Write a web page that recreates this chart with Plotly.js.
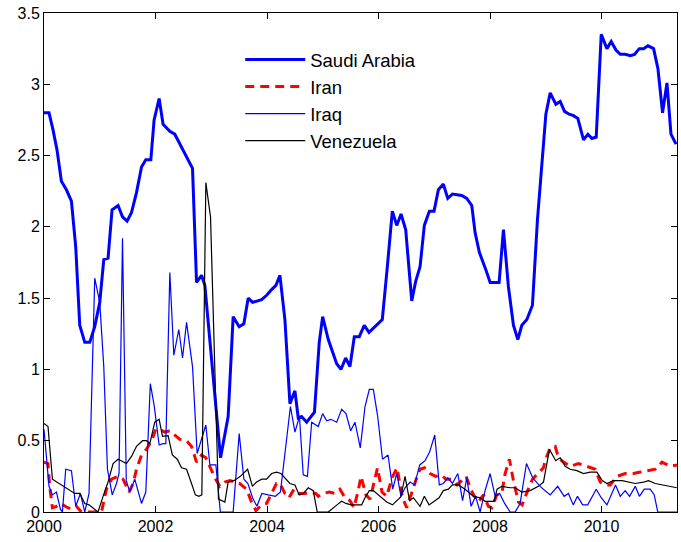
<!DOCTYPE html>
<html>
<head>
<meta charset="utf-8">
<script src="https://cdn.plot.ly/plotly-3.0.1.min.js"></script>
<style>html,body{margin:0;padding:0;background:#fff;}#chart{width:681px;height:542px;}</style>
</head>
<body>
<div id="chart"></div>
<script>
// Series names
var seriesNames = ["Saudi Arabia", "Iran", "Iraq", "Venezuela"];

// Saudi Arabia (decimal years / values)
var saudiX = [2000.000,2000.090,2000.162,2000.233,2000.312,2000.402,2000.492,2000.569,2000.641,2000.731,2000.820,2000.910,2001.000,2001.072,2001.149,2001.221,2001.329,2001.408,2001.490,2001.569,2001.659,2001.749,2001.826,2001.916,2001.975,2002.065,2002.136,2002.257,2002.346,2002.467,2002.585,2002.664,2002.736,2002.826,2002.885,2003.167,2003.303,2003.393,2003.501,2003.585,2003.662,2003.741,2003.903,2003.993,2004.083,2004.160,2004.232,2004.321,2004.411,2004.501,2004.560,2004.621,2004.711,2004.783,2004.851,2004.937,2004.998,2005.099,2005.250,2005.327,2005.411,2005.488,2005.566,2005.655,2005.745,2005.829,2006.068,2006.158,2006.248,2006.327,2006.404,2006.488,2006.596,2006.668,2006.745,2006.822,2006.912,2006.996,2007.074,2007.163,2007.242,2007.325,2007.494,2007.583,2007.673,2007.732,2007.810,2007.925,2008.002,2008.163,2008.241,2008.330,2008.420,2008.499,2008.571,2008.661,2008.761,2008.851,2008.930,2009.002,2009.079,2009.181,2009.259,2009.336,2009.420,2009.497,2009.576,2009.677,2009.756,2009.828,2009.905,2009.995,2010.097,2010.174,2010.259,2010.336,2010.425,2010.515,2010.592,2010.677,2010.754,2010.833,2010.934,2011.012,2011.095,2011.174,2011.246,2011.336];
var saudiY = [2.80,2.80,2.68,2.54,2.32,2.26,2.18,1.86,1.31,1.19,1.19,1.30,1.47,1.77,1.78,2.12,2.15,2.07,2.04,2.10,2.24,2.42,2.47,2.47,2.75,2.90,2.72,2.67,2.65,2.56,2.47,2.41,1.61,1.66,1.59,0.38,0.67,1.37,1.30,1.32,1.50,1.47,1.49,1.52,1.56,1.59,1.66,1.35,0.76,0.85,0.66,0.67,0.63,0.67,0.70,1.19,1.37,1.21,1.04,1.00,1.08,1.02,1.23,1.23,1.31,1.26,1.35,1.72,2.11,2.01,2.09,1.98,1.48,1.62,1.72,2.01,2.11,2.11,2.26,2.30,2.20,2.23,2.22,2.20,2.15,1.96,1.82,1.70,1.61,1.61,1.98,1.58,1.31,1.21,1.31,1.35,1.45,2.05,2.45,2.79,2.94,2.86,2.88,2.81,2.79,2.78,2.76,2.61,2.65,2.62,2.63,3.35,3.25,3.30,3.24,3.21,3.21,3.20,3.21,3.25,3.25,3.27,3.25,3.11,2.80,3.01,2.65,2.58];

// Iran
var iranX = [2000.000,2000.072,2000.102,2000.151,2000.223,2000.300,2000.402,2000.492,2000.582,2000.671,2001.031,2001.120,2001.210,2001.329,2001.418,2001.526,2001.598,2001.659,2001.749,2001.838,2001.928,2002.005,2002.077,2002.167,2002.257,2002.346,2002.436,2002.557,2002.646,2002.736,2002.826,2002.903,2002.975,2003.065,2003.154,2003.244,2003.334,2003.424,2003.513,2003.634,2003.723,2003.801,2003.903,2003.993,2004.083,2004.169,2004.232,2004.321,2004.393,2004.483,2004.578,2004.680,2004.770,2004.878,2004.919,2005.009,2005.117,2005.219,2005.309,2005.399,2005.488,2005.560,2005.641,2005.686,2005.776,2005.848,2005.982,2006.063,2006.147,2006.242,2006.332,2006.431,2006.506,2006.596,2006.686,2006.745,2006.826,2006.925,2007.027,2007.122,2007.212,2007.302,2007.409,2007.571,2007.643,2007.706,2007.792,2007.882,2007.971,2008.032,2008.122,2008.212,2008.271,2008.348,2008.420,2008.510,2008.576,2008.675,2008.761,2008.858,2008.959,2008.989,2009.079,2009.169,2009.228,2009.318,2009.438,2009.587,2009.738,2009.887,2009.977,2010.066,2010.156,2010.276,2010.425,2010.575,2010.695,2010.844,2010.964,2011.084,2011.233,2011.354];
var iranY = [0.35,0.34,0.18,0.03,0.04,0.06,0.035,0.02,0.04,0.00,0.00,0.16,0.23,0.25,0.23,0.14,0.20,0.30,0.40,0.44,0.50,0.58,0.58,0.56,0.57,0.54,0.51,0.50,0.46,0.35,0.40,0.38,0.32,0.24,0.18,0.21,0.22,0.21,0.20,0.16,0.07,0.01,0.05,0.06,0.13,0.20,0.20,0.13,0.10,0.16,0.13,0.13,0.14,0.13,0.11,0.13,0.14,0.13,0.16,0.10,0.08,0.03,0.16,0.25,0.12,0.09,0.31,0.14,0.11,0.24,0.31,0.10,0.03,0.14,0.24,0.30,0.31,0.27,0.25,0.26,0.23,0.23,0.19,0.25,0.17,0.12,0.07,0.12,0.04,0.03,0.12,0.13,0.27,0.37,0.22,0.07,0.05,0.15,0.23,0.27,0.31,0.36,0.45,0.46,0.38,0.35,0.32,0.34,0.32,0.30,0.21,0.19,0.19,0.25,0.27,0.27,0.28,0.29,0.30,0.35,0.32,0.33];

// Iraq
var iraqX = [2000.000,2000.043,2000.090,2000.151,2000.223,2000.294,2000.330,2000.390,2000.492,2000.569,2000.653,2000.731,2000.808,2000.910,2001.000,2001.072,2001.138,2001.224,2001.300,2001.346,2001.408,2001.476,2001.539,2001.628,2001.749,2001.826,2001.907,2001.975,2002.065,2002.136,2002.185,2002.257,2002.329,2002.418,2002.485,2002.557,2002.664,2002.747,2002.826,2002.903,2002.975,2003.083,2003.163,2003.393,2003.501,2003.585,2003.657,2003.741,2003.819,2003.908,2004.022,2004.151,2004.241,2004.339,2004.420,2004.501,2004.582,2004.650,2004.725,2004.801,2004.919,2004.998,2005.070,2005.147,2005.250,2005.339,2005.417,2005.501,2005.578,2005.673,2005.758,2005.835,2005.907,2005.982,2006.072,2006.171,2006.255,2006.327,2006.404,2006.476,2006.566,2006.646,2006.740,2006.835,2006.916,2007.009,2007.090,2007.163,2007.242,2007.325,2007.422,2007.508,2007.583,2007.661,2007.742,2007.822,2007.912,2008.002,2008.092,2008.172,2008.262,2008.361,2008.451,2008.540,2008.654,2008.765,2008.899,2009.079,2009.214,2009.330,2009.407,2009.492,2009.569,2009.662,2009.752,2009.905,2009.995,2010.097,2010.251,2010.336,2010.425,2010.503,2010.605,2010.680,2010.767,2010.874,2010.946,2011.009,2011.354];
var iraqY = [0.58,0.39,0.18,0.12,0.14,0.02,0.00,0.30,0.29,0.04,0.13,0.00,0.13,1.64,1.47,1.02,0.30,0.12,0.20,0.27,1.92,0.22,0.14,0.23,0.06,0.14,0.90,0.75,0.47,0.48,0.48,1.68,1.10,1.28,1.08,1.33,1.02,0.41,0.51,0.61,0.33,0.33,0.00,0.00,0.55,0.23,0.20,0.10,0.04,0.13,0.12,0.11,0.14,0.48,0.74,0.56,0.67,0.26,0.25,0.63,0.60,0.69,0.64,0.65,0.63,0.72,0.69,0.57,0.63,0.45,0.74,0.86,0.86,0.68,0.37,0.40,0.16,0.27,0.11,0.17,0.21,0.19,0.33,0.36,0.42,0.54,0.19,0.20,0.24,0.20,0.27,0.08,0.24,0.04,0.11,0.00,0.15,0.27,0.11,0.13,0.06,0.00,0.00,0.06,0.34,0.24,0.18,0.12,0.18,0.11,0.13,0.05,0.11,0.05,0.05,0.16,0.10,0.05,0.19,0.11,0.15,0.11,0.18,0.11,0.16,0.16,0.12,0.00,0.00];

// Venezuela
var venX = [2000.000,2000.072,2000.151,2000.233,2000.341,2000.461,2000.551,2000.641,2000.731,2000.808,2000.880,2000.969,2001.059,2001.149,2001.239,2001.329,2001.479,2001.569,2001.659,2001.767,2001.838,2001.898,2001.987,2002.065,2002.126,2002.226,2002.302,2002.391,2002.467,2002.557,2002.646,2002.715,2002.777,2002.831,2002.903,2002.987,2003.130,2003.244,2003.303,2003.406,2003.522,2003.652,2003.738,2003.813,2003.908,2003.993,2004.083,2004.172,2004.250,2004.339,2004.411,2004.501,2004.578,2004.650,2004.740,2004.829,2004.901,2005.099,2005.183,2005.255,2005.339,2005.417,2005.506,2005.698,2005.758,2005.835,2005.907,2005.991,2006.075,2006.147,2006.251,2006.332,2006.399,2006.476,2006.557,2006.625,2006.704,2006.745,2006.822,2006.907,2007.086,2007.163,2007.253,2007.325,2007.433,2007.553,2007.702,2007.822,2007.912,2008.074,2008.127,2008.212,2008.361,2008.451,2008.571,2008.720,2008.869,2008.959,2009.066,2009.178,2009.259,2009.348,2009.438,2009.558,2009.677,2009.797,2009.917,2010.013,2010.097,2010.215,2010.371,2010.515,2010.605,2010.754,2010.844,2010.964,2011.084,2011.203,2011.350];
var venY = [0.62,0.60,0.23,0.21,0.18,0.15,0.13,0.13,0.06,0.05,0.03,0.00,0.11,0.21,0.34,0.37,0.34,0.39,0.46,0.50,0.50,0.48,0.63,0.65,0.53,0.535,0.40,0.37,0.31,0.30,0.20,0.12,0.11,0.12,2.31,2.07,0.09,0.07,0.21,0.22,0.25,0.30,0.18,0.21,0.23,0.23,0.27,0.28,0.27,0.23,0.20,0.19,0.12,0.13,0.17,0.15,0.00,0.00,0.03,0.05,0.075,0.06,0.05,0.05,0.10,0.15,0.15,0.12,0.09,0.07,0.05,0.08,0.105,0.25,0.08,0.10,0.06,0.04,0.11,0.05,0.10,0.15,0.16,0.19,0.19,0.16,0.11,0.10,0.075,0.075,0.16,0.18,0.17,0.17,0.14,0.15,0.18,0.21,0.44,0.36,0.38,0.32,0.30,0.29,0.27,0.28,0.28,0.22,0.20,0.22,0.22,0.21,0.20,0.21,0.22,0.20,0.19,0.18,0.17];

// Axis ticks
var xTickVals = [2000, 2002, 2004, 2006, 2008, 2010];
var xTickText = ["2000", "2002", "2004", "2006", "2008", "2010"];
var yTickVals = [0, 0.5, 1, 1.5, 2, 2.5, 3, 3.5];
var yTickText = ["0", "0.5", "1", "1.5", "2", "2.5", "3", "3.5"];

var FONT = "Liberation Sans, Arial, Helvetica, sans-serif";

var traces = [
  {x: saudiX, y: saudiY, name: seriesNames[0], type: "scatter", mode: "lines",
   line: {color: "#0000ff", width: 3}},
  {x: iranX, y: iranY, name: seriesNames[1], type: "scatter", mode: "lines",
   line: {color: "#ff0000", width: 3, dash: "9px,6px"}},
  {x: iraqX, y: iraqY, name: seriesNames[2], type: "scatter", mode: "lines",
   line: {color: "#0000ff", width: 1.2}},
  {x: venX, y: venY, name: seriesNames[3], type: "scatter", mode: "lines",
   line: {color: "#000000", width: 1.2}}
];

var layout = {
  width: 681, height: 542,
  margin: {l: 44, r: 4, t: 13, b: 30, pad: 0},
  paper_bgcolor: "#ffffff", plot_bgcolor: "#ffffff",
  font: {family: FONT, size: 16, color: "#000000"},
  showlegend: true,
  legend: {x: 0.31, y: 0.944, xanchor: "left", yanchor: "top",
           bgcolor: "rgba(255,255,255,0)", borderwidth: 0,
           font: {family: FONT, size: 18.5, color: "#000"},
           tracegroupgap: 0, itemwidth: 60},
  xaxis: {range: [2000, 2011.354], tickvals: xTickVals, ticktext: xTickText,
          ticks: "inside", ticklen: 6, tickwidth: 1, tickcolor: "#000",
          showline: true, linecolor: "#000", linewidth: 1, mirror: "ticks",
          showgrid: false, zeroline: false, tickfont: {family: FONT, size: 16, color: "#000"}},
  yaxis: {range: [0, 3.5], tickvals: yTickVals, ticktext: yTickText,
          ticks: "inside", ticklen: 6, tickwidth: 1, tickcolor: "#000",
          showline: true, linecolor: "#000", linewidth: 1, mirror: "ticks",
          showgrid: false, zeroline: false, tickfont: {family: FONT, size: 16, color: "#000"}}
};

Plotly.newPlot("chart", traces, layout, {displayModeBar: false, staticPlot: true});
</script>
</body>
</html>
